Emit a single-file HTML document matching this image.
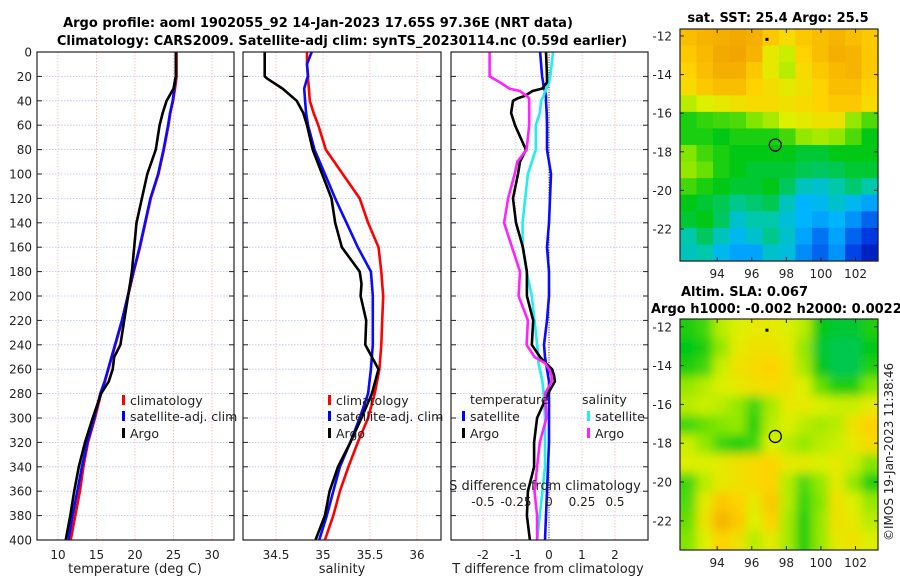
<!DOCTYPE html>
<html><head><meta charset="utf-8"><style>
html,body{margin:0;padding:0;background:#fff;}
svg{display:block;font-family:"DejaVu Sans","Liberation Sans",sans-serif;}
</style></head><body>
<svg id="chart" width="900" height="580" viewBox="0 0 900 580" xmlns="http://www.w3.org/2000/svg">
<defs>
<filter id="smooth" x="-5%" y="-5%" width="110%" height="110%"><feGaussianBlur stdDeviation="5"/></filter>
<clipPath id="clipSla"><rect x="680" y="319" width="198" height="231"/></clipPath>
</defs>
<g id="titles">
<text x="318" y="27" text-anchor="middle" font-size="13" font-weight="bold">Argo profile: aoml 1902055_92 14-Jan-2023 17.65S 97.36E (NRT data)</text>
<text x="342" y="45" text-anchor="middle" font-size="13" font-weight="bold">Climatology: CARS2009. Satellite-adj clim: synTS_20230114.nc (0.59d earlier)</text>
<text x="778" y="22" text-anchor="middle" font-size="13" font-weight="bold">sat. SST: 25.4 Argo: 25.5</text>
<text x="681" y="296" font-size="13" font-weight="bold">Altim. SLA: 0.067</text>
<text x="651" y="313" font-size="13" font-weight="bold">Argo h1000: -0.002 h2000: 0.0022</text>
<text transform="translate(893,541) rotate(-90)" font-size="12" fill="#222">©IMOS 19-Jan-2023 11:38:46</text>
</g>
<g id="plots"></g>
</svg>
<script>
// ---------- data ----------
const depthTicks=[0,20,40,60,80,100,120,140,160,180,200,220,240,260,280,300,320,340,360,380,400];
const tTicks=[10,15,20,25,30];
const sTicks=[34.5,35,35.5,36];
const dTicks=[-2,-1,0,1,2];
const dsTicks=[-0.5,-0.25,0,0.25,0.5];
const dsTickLabels=["-0.5","-0.25","0","0.25","0.5"];

const tDepth=[0,20,30,40,50,60,80,100,120,140,160,180,200,220,240,250,260,270,280,300,320,340,360,380,400];
const tClim=[25.4,25.4,25.2,24.95,24.6,24.35,23.75,23.05,22.05,21.35,20.65,19.85,19.1,18.35,17.45,17.0,16.55,16.1,15.6,14.8,13.9,13.3,12.85,12.25,11.65];
const tSat=[25.3,25.3,25.1,24.9,24.55,24.3,23.7,23.0,22.0,21.3,20.6,19.8,19.05,18.3,17.4,16.95,16.5,16.05,15.5,14.7,13.8,13.1,12.5,11.9,11.35];
const tArgo=[25.3,25.3,25.0,24.1,23.6,23.2,22.7,21.6,20.9,20.2,19.9,19.6,19.1,18.6,18.1,17.3,17.1,16.6,15.6,14.5,13.5,12.7,12.1,11.6,11.0];

const sDepth=[0,10,20,22,30,40,50,60,80,100,120,140,160,180,190,200,220,240,260,280,300,320,340,360,380,400];
const sClim=[34.83,34.83,34.84,34.84,34.85,34.86,34.9,34.95,35.03,35.21,35.39,35.48,35.59,35.62,35.63,35.64,35.63,35.62,35.6,35.55,35.48,35.37,35.27,35.18,35.11,35.02];
const sSat=[34.88,34.83,34.84,34.83,34.8,34.81,34.82,34.84,34.91,35.02,35.13,35.25,35.37,35.51,35.52,35.53,35.53,35.53,35.51,35.48,35.39,35.29,35.18,35.11,35.04,34.96];
const sArgo=[34.38,34.38,34.38,34.41,34.57,34.72,34.79,34.83,34.89,34.99,35.09,35.13,35.2,35.39,35.41,35.4,35.46,35.45,35.59,35.52,35.41,35.29,35.16,35.07,35.02,34.92];

const dDepth=[0,20,25,30,32,36,38,40,50,60,80,90,100,120,140,160,180,200,220,240,250,255,260,265,270,280,300,320,340,360,380,400];
const dtSat=[-0.27,-0.21,-0.18,-0.15,-0.12,-0.09,-0.09,-0.09,-0.07,-0.06,-0.06,0.0,0.06,0.03,0.0,-0.06,0.0,0.0,-0.06,-0.15,-0.12,-0.09,-0.06,-0.03,0.0,0.0,0.0,0.0,-0.03,-0.06,-0.09,-0.12];
const dtArgo=[-0.09,-0.06,-0.06,-0.21,-0.5,-0.73,-0.95,-1.09,-1.15,-1.03,-0.7,-0.88,-0.94,-1.09,-1.0,-0.79,-0.67,-0.67,-0.48,-0.52,-0.27,-0.1,0.09,0.15,0.18,-0.03,-0.36,-0.45,-0.45,-0.64,-0.67,-0.58];
const dsSat=[0.03,0.01,0.0,-0.02,-0.03,-0.04,-0.05,-0.06,-0.07,-0.1,-0.1,-0.13,-0.16,-0.18,-0.2,-0.2,-0.17,-0.13,-0.11,-0.09,-0.08,-0.08,-0.07,-0.06,-0.05,-0.04,-0.03,-0.03,-0.03,-0.05,-0.07,-0.09];
const dsArgo=[-0.45,-0.45,-0.37,-0.3,-0.22,-0.17,-0.15,-0.15,-0.15,-0.15,-0.17,-0.24,-0.26,-0.31,-0.34,-0.28,-0.22,-0.23,-0.16,-0.17,-0.11,-0.03,0.0,0.02,0.02,-0.03,-0.02,-0.07,-0.09,-0.11,-0.09,-0.09];

const lonTicks=[94,96,98,100,102];
const latTicks=[-12,-14,-16,-18,-20,-22];
const argoLon=97.36, argoLat=-17.65;
const sstGrid=[
[.82,.84,.85,.86,.85,.80,.76,.80,.82,.84,.82,.80],
[.80,.83,.86,.87,.84,.72,.68,.78,.82,.85,.84,.80],
[.78,.82,.85,.85,.80,.72,.66,.76,.80,.83,.84,.80],
[.76,.80,.82,.82,.78,.75,.72,.74,.78,.82,.82,.78],
[.66,.70,.72,.74,.76,.76,.74,.76,.78,.80,.80,.76],
[.52,.54,.55,.56,.60,.64,.70,.72,.74,.74,.62,.56],
[.52,.52,.50,.52,.52,.52,.55,.62,.64,.62,.56,.50],
[.60,.55,.52,.50,.50,.50,.50,.48,.48,.50,.50,.50],
[.62,.58,.52,.50,.48,.48,.48,.46,.45,.46,.48,.48],
[.55,.52,.50,.48,.48,.50,.45,.38,.36,.40,.44,.40],
[.50,.48,.46,.42,.44,.46,.38,.30,.32,.36,.32,.28],
[.48,.50,.45,.36,.40,.40,.35,.30,.28,.30,.26,.20],
[.40,.45,.38,.32,.36,.42,.36,.28,.22,.28,.20,.14],
[.38,.40,.32,.28,.28,.36,.34,.25,.20,.26,.16,.08]];
const slaGrid=[
[.52,.55,.66,.70,.72,.72,.70,.66,.50,.48,.48,.52],
[.50,.52,.62,.72,.74,.74,.72,.62,.48,.46,.46,.50],
[.52,.55,.68,.74,.76,.78,.74,.64,.50,.46,.46,.52],
[.62,.66,.70,.72,.74,.76,.74,.70,.58,.52,.52,.60],
[.66,.68,.66,.62,.55,.64,.72,.72,.70,.68,.68,.72],
[.55,.58,.60,.62,.52,.66,.70,.66,.64,.66,.74,.78],
[.68,.62,.55,.52,.55,.70,.66,.62,.66,.68,.72,.76],
[.70,.70,.72,.74,.76,.78,.72,.72,.70,.72,.68,.60],
[.55,.66,.72,.74,.76,.78,.66,.56,.62,.72,.62,.52],
[.56,.72,.80,.78,.72,.80,.66,.54,.60,.74,.70,.62],
[.58,.74,.84,.80,.70,.78,.64,.52,.62,.74,.72,.66],
[.60,.70,.78,.74,.66,.72,.64,.52,.62,.72,.74,.70]];

// ---------- helpers ----------
const NS="http://www.w3.org/2000/svg";
const root=document.getElementById('plots');
function mk(tag,attrs,parent){const e=document.createElementNS(NS,tag);for(const k in attrs)e.setAttribute(k,attrs[k]);(parent||root).appendChild(e);return e;}
function txt(x,y,s,size,anchor,parent){const t=mk('text',{x:x,y:y,'font-size':size,'text-anchor':anchor,fill:'#222'},parent);t.textContent=s;return t;}
const Y0=52,Y1=540;
const yD=d=>Y0+(d/400)*(Y1-Y0);
function lin(d0,d1,r0,r1){return v=>r0+(v-d0)/(d1-d0)*(r1-r0);}

function panel(name,x0,x1,xs,xt,xlabels,showY){
  const g=mk('g',{});
  
  
  depthTicks.forEach(d=>{
    const l=mk('line',{x1:x0,x2:x1,y1:yD(d),y2:yD(d),stroke:'#b8c4ee','stroke-width':0.8,'stroke-dasharray':'1.5,1.5'},g);
    
    
    mk('line',{x1:x0,x2:x0+5,y1:yD(d),y2:yD(d),stroke:'#222'},g);
    mk('line',{x1:x1-5,x2:x1,y1:yD(d),y2:yD(d),stroke:'#222'},g);
    if(showY){const t=txt(x0-5,yD(d)+4.5,String(d),12,'end',g);
      
      }
  });
  xt.forEach((v,i)=>{
    const l=mk('line',{x1:xs(v),x2:xs(v),y1:Y0,y2:Y1,stroke:'#e8c0b0','stroke-width':0.8,'stroke-dasharray':'1.5,1.5'},g);
    
    
    const t=txt(xs(v),559,xlabels[i],12,'middle',g);
    
    
  });
  return g;
}
function line(g,name,xs,vals,depths,color){
  const p=vals.map((v,i)=>(i?'L':'M')+xs(v).toFixed(1)+','+yD(depths[i]).toFixed(1)).join('');
  const e=mk('path',{d:p,fill:'none',stroke:color,'stroke-width':2.6,'stroke-linejoin':'round'},g);
  
  
}
function frame(g,x0,x1){mk('rect',{x:x0,y:Y0,width:x1-x0,height:Y1-Y0,fill:'none',stroke:'#222','stroke-width':1.2},g);}
function legendItem(g,name,x,y,color,label){
  const it=mk('g',{},g);
  
  
  mk('rect',{x:x,y:y-10,width:3,height:10,fill:color},it);
  txt(x+8,y,label,12.5,'start',it);
}

// panel 1 temperature
const xT=lin(10,30,58,212);
const g1=panel('temperature-panel',37,234,xT,tTicks,tTicks.map(String),true);
line(g1,'temp-climatology-line',xT,tClim,tDepth,'#ff0000');
line(g1,'temp-satellite-clim-line',xT,tSat,tDepth,'#0a0aff');
line(g1,'temp-argo-line',xT,tArgo,tDepth,'#000');
frame(g1,37,234);
legendItem(g1,'legend-climatology',122,405,'#f00','climatology');
legendItem(g1,'legend-satellite-adj-clim',122,421,'#00f','satellite-adj. clim');
legendItem(g1,'legend-argo',122,438,'#000','Argo');
let t=txt(135,573,'temperature (deg C)',13,'middle',g1);



// panel 2 salinity
const xS=lin(35,35.5,323,370);
const g2=panel('salinity-panel',243,441,xS,sTicks,sTicks.map(String),false);
line(g2,'sal-climatology-line',xS,sClim,sDepth,'#ff0000');
line(g2,'sal-satellite-clim-line',xS,sSat,sDepth,'#0a0aff');
line(g2,'sal-argo-line',xS,sArgo,sDepth,'#000');
frame(g2,243,441);
legendItem(g2,'legend-climatology-2',328,405,'#f00','climatology');
legendItem(g2,'legend-satellite-adj-clim-2',328,421,'#00f','satellite-adj. clim');
legendItem(g2,'legend-argo-2',328,438,'#000','Argo');
t=txt(342,573,'salinity',13,'middle',g2);



// panel 3 differences
const xD=lin(0,1,549,582);
const xDS=v=>xD(v*4);
const g3=panel('difference-panel',451,648,xD,dTicks,dTicks.map(String),false);
mk('line',{x1:xD(0),x2:xD(0),y1:Y0,y2:Y1,stroke:'#333','stroke-width':1,'stroke-dasharray':'1,1.5'},g3);
line(g3,'dt-satellite-line',xD,dtSat,dDepth,'#0a0aff');
line(g3,'ds-satellite-line',xDS,dsSat,dDepth,'#22eeee');
line(g3,'dt-argo-line',xD,dtArgo,dDepth,'#000');
line(g3,'ds-argo-line',xDS,dsArgo,dDepth,'#ff22ff');
frame(g3,451,648);
t=txt(470,404,'temperature',12.5,'start',g3);


t=txt(582,404,'salinity',12.5,'start',g3);


legendItem(g3,'legend-t-satellite',462,421,'#00f','satellite');
legendItem(g3,'legend-t-argo',462,438,'#000','Argo');
legendItem(g3,'legend-s-satellite',587,421,'#2ee','satellite');
legendItem(g3,'legend-s-argo',587,438,'#f2f','Argo');
t=txt(545,490,'S difference from climatology',13,'middle',g3);


dsTicks.forEach((v,i)=>{const e=txt(xDS(v),506,dsTickLabels[i],12,'middle',g3);
  
  });
t=txt(548,573,'T difference from climatology',13,'middle',g3);



// ---------- maps ----------
const stops=[[0,[0,0,150]],[0.15,[0,60,230]],[0.3,[0,180,255]],[0.4,[0,200,170]],[0.5,[0,200,20]],[0.6,[130,230,0]],[0.7,[220,240,0]],[0.78,[255,210,0]],[0.88,[240,160,0]],[1,[220,90,0]]];
function cmap(v){for(let i=1;i<stops.length;i++){if(v<=stops[i][0]){const a=stops[i-1],b=stops[i],f=(v-a[0])/(b[0]-a[0]);return 'rgb('+a[1].map((c,k)=>Math.round(c+f*(b[1][k]-c))).join(',')+')';}}return 'rgb(220,90,0)';}
function map(name,grid,top,bot,latTop,latBot,smooth){
  const g=mk('g',{});
  
  
  const L=680,R=878;
  const xl=lin(91.85,103.3,L,R), yl=lin(latTop,latBot,top,bot);
  const rows=grid.length, cols=grid[0].length, cw=(R-L)/cols, ch=(bot-top)/rows;
  const outer=mk('g',smooth?{'clip-path':'url(#clipSla)'}:{},g);
  const cg=mk('g',smooth?{filter:'url(#smooth)'}:{},outer);
  grid.forEach((row,r)=>row.forEach((v,c)=>{
    let x=L+c*cw,y=top+r*ch,w=cw+0.6,h=ch+0.6;
    if(smooth){if(c===0){x-=12;w+=12;}if(c===cols-1)w+=12;if(r===0){y-=12;h+=12;}if(r===rows-1)h+=12;}
    const cell=mk('rect',{x:x.toFixed(2),y:y.toFixed(2),width:w.toFixed(2),height:h.toFixed(2),fill:cmap(v)},cg);
    
    
  }));
  mk('rect',{x:L,y:top,width:R-L,height:bot-top,fill:'none',stroke:'#222','stroke-width':1.2},g);
  latTicks.forEach(v=>{const y=yl(v);
    mk('line',{x1:L,x2:L+4,y1:y,y2:y,stroke:'#222'},g);
    mk('line',{x1:R-4,x2:R,y1:y,y2:y,stroke:'#222'},g);
    const e=txt(L-8,y+4.5,String(v),12,'end',g);
    
    });
  lonTicks.forEach(v=>{const x=xl(v);
    mk('line',{x1:x,x2:x,y1:bot-4,y2:bot,stroke:'#222'},g);
    mk('line',{x1:x,x2:x,y1:top,y2:top+4,stroke:'#222'},g);
    const e=txt(x,bot+17,String(v),12,'middle',g);
    
    });
  const m=mk('circle',{cx:xl(argoLon),cy:yl(argoLat),r:6,fill:'none',stroke:'#000','stroke-width':1.3},g);
  
  
  mk('rect',{x:xl(96.85)-1,y:yl(-12.15)-1,width:3,height:3,fill:'#000'},g);
}
map('sst-map',sstGrid,29,261,-11.64,-23.66,false);
map('sla-map',slaGrid,319,550,-11.6,-23.5,true);
</script>
</body></html>
